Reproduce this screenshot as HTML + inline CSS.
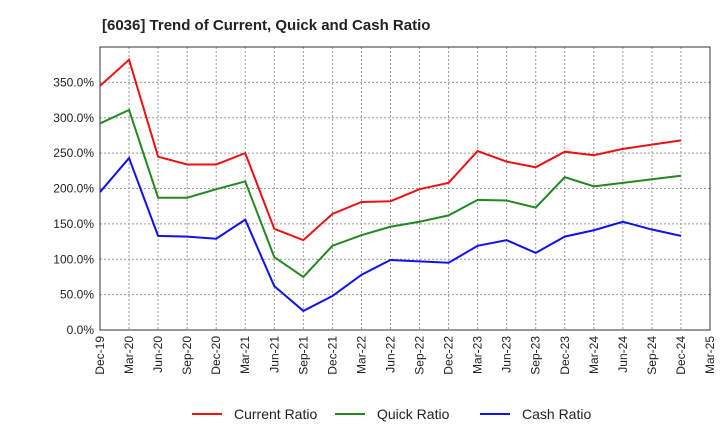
<!DOCTYPE html>
<html><head><meta charset="utf-8"><style>
body{margin:0;background:#fff;font-family:"Liberation Sans",sans-serif}
</style></head><body>
<svg id="chart" width="720" height="440" xmlns="http://www.w3.org/2000/svg">
<text x="102" y="30" font-size="15" font-weight="bold" fill="#222">[6036]  Trend of Current, Quick and Cash Ratio</text>
<g id="grid"></g><g id="axes"></g><g id="series"></g><g id="legend"></g>
</svg>
<script>
const categories=["Dec-19","Mar-20","Jun-20","Sep-20","Dec-20","Mar-21","Jun-21","Sep-21","Dec-21","Mar-22","Jun-22","Sep-22","Dec-22","Mar-23","Jun-23","Sep-23","Dec-23","Mar-24","Jun-24","Sep-24","Dec-24","Mar-25"];
const currentRatio=[345,382,245,234,234,250,143,127,164,181,182,199,208,253,238,230,252,247,256,262,268];
const quickRatio=[292,311,187,187,199,210,103,75,119,134,146,153,162,184,183,173,216,203,208,213,218];
const cashRatio=[195,243,133,132,129,156,62,27,48,78,99,97,95,119,127,109,132,141,153,142,133];
const yTicks=[0,50,100,150,200,250,300,350];
const seriesNames=["Current Ratio","Quick Ratio","Cash Ratio"];
const seriesColors=["#ee1111","#228822","#1111ee"];
const L=100,R=710,T=47,B=330,yMax=400;
const x=i=>L+i*(R-L)/(categories.length-1);
const y=v=>B-v*(B-T)/yMax;
const ns="http://www.w3.org/2000/svg";
function mk(tag,attrs,parent,txt){const e=document.createElementNS(ns,tag);for(const k in attrs)e.setAttribute(k,attrs[k]);if(txt!=null)e.textContent=txt;document.getElementById(parent).appendChild(e);return e;}
categories.forEach((c,i)=>{
  const g=mk("line",{x1:x(i),x2:x(i),y1:T,y2:B,stroke:"#999","stroke-dasharray":"2,2","stroke-width":1},"grid");
  
  
  const t=mk("text",{x:0,y:0,"font-size":12,fill:"#222","text-anchor":"end",transform:`translate(${x(i)+4},${B+6}) rotate(-90)`},"axes",c);
  
  
});
for(let v=0;v<=yMax;v+=50){
  const g=mk("line",{x1:L,x2:R,y1:y(v),y2:y(v),stroke:"#999","stroke-dasharray":"2,2","stroke-width":1},"grid");
  
  
}
yTicks.forEach(v=>{
  const t=mk("text",{x:L-6,y:y(v)+4,"font-size":12,fill:"#222","text-anchor":"end"},"axes",v.toFixed(1)+"%");
  
  
});
const box=mk("rect",{x:L,y:T,width:R-L,height:B-T,fill:"none",stroke:"#333","stroke-width":1},"axes");


[currentRatio,quickRatio,cashRatio].forEach((d,s)=>{
  const p=mk("polyline",{points:d.map((v,i)=>x(i)+","+y(v)).join(" "),fill:"none",stroke:seriesColors[s],"stroke-width":2},"series");
  
  
});
const lx=[192,335,480];
seriesNames.forEach((n,s)=>{
  const l=mk("line",{x1:lx[s],x2:lx[s]+30,y1:414,y2:414,stroke:seriesColors[s],"stroke-width":2},"legend");
  
  
  const t=mk("text",{x:lx[s]+42,y:419,"font-size":14,fill:"#222"},"legend",n);
  
  
});
</script>
</body></html>
